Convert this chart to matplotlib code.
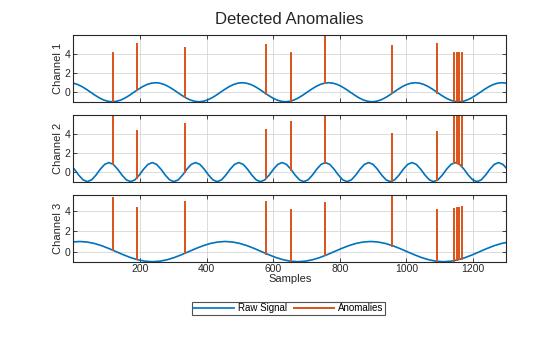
import numpy as np
import matplotlib
matplotlib.use("Agg")
import matplotlib.pyplot as plt

plt.rcParams['font.family'] = ['Liberation Sans', 'DejaVu Sans']

# raw signals at regular sample positions
ch1_x = np.arange(0, 1301, 13)
ch1_vals = [0.95, 0.81, 0.59, 0.31, 0, -0.31, -0.59, -0.81, -0.95, -1, -0.95, -0.81, -0.59, -0.31, 0, 0.31, 0.59, 0.81, 0.95, 1,
            0.95, 0.81, 0.59, 0.31, 0, -0.31, -0.59, -0.81, -0.95, -1, -0.95, -0.81, -0.59, -0.31, 0, 0.31, 0.59, 0.81, 0.95, 1,
            0.95, 0.81, 0.59, 0.31, 0, -0.31, -0.59, -0.81, -0.95, -1, -0.95, -0.81, -0.59, -0.31, 0, 0.31, 0.59, 0.81, 0.95, 1,
            0.95, 0.81, 0.59, 0.31, 0, -0.31, -0.59, -0.81, -0.95, -1, -0.95, -0.81, -0.59, -0.31, 0, 0.31, 0.59, 0.81, 0.95, 1,
            0.95, 0.81, 0.59, 0.31, 0, -0.31, -0.59, -0.81, -0.95, -1, -0.95, -0.81, -0.59, -0.31, 0, 0.31, 0.59, 0.81, 0.95, 1,
            0.95]

ch2_x = np.arange(-10, 1304, 13)
ch2_vals = [0.81, 0.31, -0.31, -0.81, -1, -0.81, -0.31, 0.31, 0.81, 1,
            0.81, 0.31, -0.31, -0.81, -1, -0.81, -0.31, 0.31, 0.81, 1,
            0.81, 0.31, -0.31, -0.81, -1, -0.81, -0.31, 0.31, 0.81, 1,
            0.81, 0.31, -0.31, -0.81, -1, -0.81, -0.31, 0.31, 0.81, 1,
            0.81, 0.31, -0.31, -0.81, -1, -0.81, -0.31, 0.31, 0.81, 1,
            0.81, 0.31, -0.31, -0.81, -1, -0.81, -0.31, 0.31, 0.81, 1,
            0.81, 0.31, -0.31, -0.81, -1, -0.81, -0.31, 0.31, 0.81, 1,
            0.81, 0.31, -0.31, -0.81, -1, -0.81, -0.31, 0.31, 0.81, 1,
            0.81, 0.31, -0.31, -0.81, -1, -0.81, -0.31, 0.31, 0.81, 1,
            0.81, 0.31, -0.31, -0.81, -1, -0.81, -0.31, 0.31, 0.81, 1,
            0.81, 0.31]

ch3_x = np.linspace(-3, 1308, 61)
ch3_vals = [0.95,
            1, 0.95, 0.81, 0.59, 0.31, 0, -0.31, -0.59, -0.81, -0.95, -1, -0.95, -0.81, -0.59, -0.31, 0, 0.31, 0.59, 0.81, 0.95,
            1, 0.95, 0.81, 0.59, 0.31, 0, -0.31, -0.59, -0.81, -0.95, -1, -0.95, -0.81, -0.59, -0.31, 0, 0.31, 0.59, 0.81, 0.95,
            1, 0.95, 0.81, 0.59, 0.31, 0, -0.31, -0.59, -0.81, -0.95, -1, -0.95, -0.81, -0.59, -0.31, 0, 0.31, 0.59, 0.81, 0.95]

# anomaly positions (shared) and spike base/top per channel
anom_idx = [118, 190, 335, 580, 655, 757, 958, 1093, 1144, 1152, 1159, 1166]
ch1_base = [-1.0, 0.19, -0.53, -0.19, -0.91, 0.97, -0.09, -0.03, -0.96, -1.0, -1.0, -0.98]
ch1_top = [4.07, 5.1, 4.59, 4.93, 4.07, 6.0, 4.83, 5.1, 4.07, 4.07, 4.07, 4.07]
ch2_base = [0.86, -0.65, 0.03, -0.65, 0.22, 1.0, -0.96, -0.86, 0.99, 0.96, 0.86, 0.65]
ch2_top = [6.0, 4.34, 5.03, 4.41, 5.24, 6.0, 4.0, 4.2, 6.0, 6.0, 6.0, 6.0]
ch3_base = [0.15, -0.78, -0.17, -0.21, -0.96, -0.37, 0.59, -0.96, -0.89, -0.84, -0.78, -0.72]
ch3_top = [5.28, 4.3, 4.89, 4.89, 4.13, 4.79, 5.6, 4.13, 4.23, 4.28, 4.33, 4.46]

channels = [(ch1_x, ch1_vals, ch1_base, ch1_top),
            (ch2_x, ch2_vals, ch2_base, ch2_top),
            (ch3_x, ch3_vals, ch3_base, ch3_top)]
names = ["Channel 1", "Channel 2", "Channel 3"]

blue = "#0072BD"
orange = "#D95319"
dark = "#262626"

fig = plt.figure(figsize=(5.6, 3.37), dpi=100)
bottoms = [0.698, 0.461, 0.2234]
axes = []
for k, (sx, sv, base, top) in enumerate(channels):
    ax = fig.add_axes([0.131, bottoms[k], 0.773, 0.198])
    axes.append(ax)
    h1, = ax.plot(sx, sv, color=blue, lw=1.2)
    # spikes as vertical segments separated by NaN
    xs, ys = [], []
    for i, b, t in zip(anom_idx, base, top):
        xs += [i, i, np.nan]
        ys += [b, t, np.nan]
    h2, = ax.plot(xs, ys, color=orange, lw=1.4)
    ax.set_xlim(0, 1300)
    ax.set_ylim(min(sv), max(top))
    ax.set_yticks([0, 2, 4])
    ax.set_xticks([200, 400, 600, 800, 1000, 1200])
    ax.grid(True, color="#d6d6d6", lw=0.6)
    ax.set_axisbelow(True)
    ax.tick_params(direction="in", top=True, right=True, length=3, width=0.6,
                   labelsize=7.5, colors=dark, pad=2)
    for s in ax.spines.values():
        s.set_color(dark)
        s.set_linewidth(0.8)
    ax.set_ylabel(names[k], fontsize=8, color=dark, labelpad=1)
    if k < 2:
        ax.tick_params(labelbottom=False)

axes[2].set_xlabel("Samples", fontsize=8, color=dark, labelpad=0)
fig.text(0.517, 1 - 20 / 337, "Detected Anomalies", ha="center", va="center",
         fontsize=12, color=dark)

leg = fig.legend([h1, h2], ["Raw Signal", "Anomalies"], loc="center",
                 bbox_to_anchor=(0.515, 1 - 308.3 / 337), ncol=2, fontsize=7,
                 frameon=True, fancybox=False, handlelength=4.2, handletextpad=0.4,
                 columnspacing=0.7, borderpad=0.15, borderaxespad=0)
leg.get_frame().set_edgecolor(dark)
leg.get_frame().set_linewidth(0.8)

fig.savefig("out.png", dpi=100)
